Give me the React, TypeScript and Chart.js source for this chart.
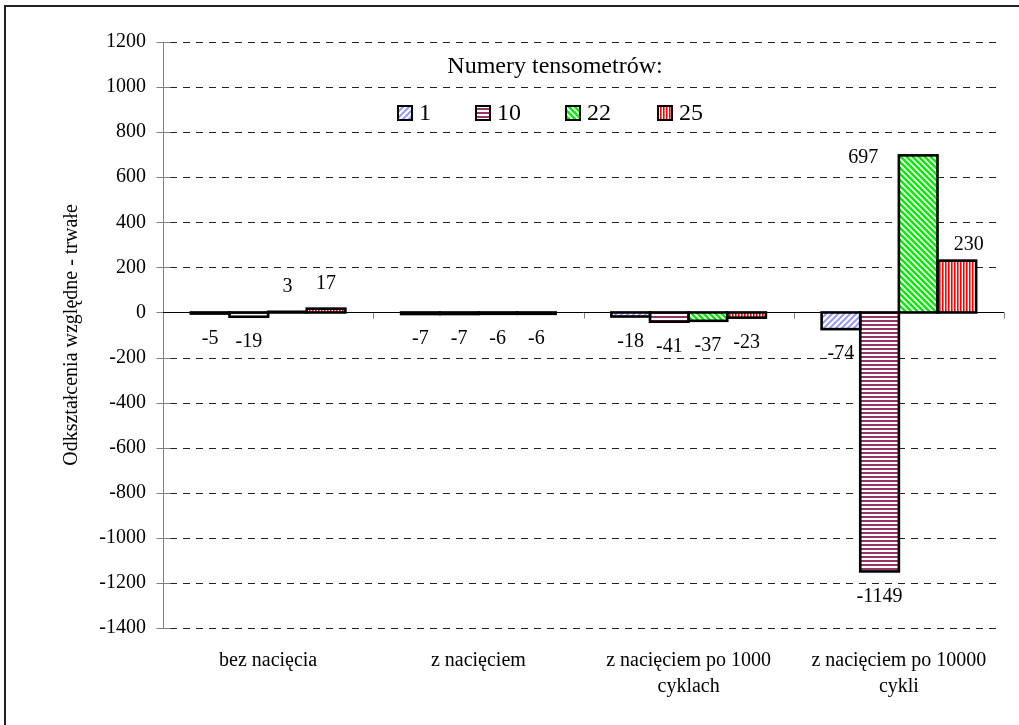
import React, { useEffect, useRef } from "react";
import { Chart, registerables } from "chart.js";

Chart.register(...registerables);

const categories: string[][] = [
  ["bez nacięcia"],
  ["z nacięciem"],
  ["z nacięciem po 1000", "cyklach"],
  ["z nacięciem po 10000", "cykli"],
];
const seriesNames = ["1", "10", "22", "25"];
const series1 = [-5, -7, -18, -74];
const series10 = [-19, -7, -41, -1149];
const series22 = [3, -6, -37, 697];
const series25 = [17, -6, -23, 230];
const yMin = -1400;
const yMax = 1200;
const yStep = 200;
const legendTitle = "Numery tensometrów:";
const yTitle = "Odkształcenia względne - trwałe";
// manual nudges of individual data labels (series index, category index)
const labelNudges = [
  { s: 2, c: 3, dx: -55, dy: 27 },
  { s: 3, c: 3, dx: 12, dy: 9 },
];

const FONT = "'Liberation Serif', 'Times New Roman', serif";

function makePattern(kind: string, color: string): CanvasPattern | string {
  const c = document.createElement("canvas");
  const size = kind === "horiz" ? 4 : kind === "vert" ? 3 : 6;
  c.width = size;
  c.height = size;
  const g = c.getContext("2d");
  if (!g) return color;
  g.fillStyle = "#fff";
  g.fillRect(0, 0, size, size);
  g.fillStyle = color;
  g.strokeStyle = color;
  if (kind === "horiz") {
    g.fillRect(0, 0, size, 2);
  } else if (kind === "vert") {
    g.fillRect(0, 0, 1.6, size);
  } else {
    g.lineWidth = kind === "diagDown" ? 2.4 : 2;
    g.beginPath();
    if (kind === "diagUp") {
      for (let k = -1; k <= 1; k++) {
        g.moveTo(k * size - 1, size + 1);
        g.lineTo(k * size + size + 1, -1);
      }
    } else {
      for (let k = -1; k <= 1; k++) {
        g.moveTo(k * size - 1, -1);
        g.lineTo(k * size + size + 1, size + 1);
      }
    }
    g.stroke();
  }
  const p = g.createPattern(c, "repeat");
  return p || color;
}

export default function App() {
  const ref = useRef<HTMLCanvasElement>(null);

  useEffect(() => {
    document.body.style.margin = "0";
    const canvas = ref.current;
    if (!canvas) return;

    const fills = [
      makePattern("diagUp", "#9999FF"),
      makePattern("horiz", "#993366"),
      makePattern("diagDown", "#00EE00"),
      makePattern("vert", "#FF0000"),
    ];
    const values = [series1, series10, series22, series25];

    const decor = {
      id: "decor",
      beforeDatasetsDraw(chart: any) {
        const ctx = chart.ctx;
        const y = chart.scales.y;
        const area = chart.chartArea;
        ctx.save();
        // dashed grid lines
        ctx.strokeStyle = "#222";
        ctx.lineWidth = 1;
        ctx.setLineDash([7, 6]);
        for (let v = yMin; v <= yMax; v += yStep) {
          if (v === 0) continue;
          const py = Math.round(y.getPixelForValue(v)) + 0.5;
          ctx.beginPath();
          ctx.moveTo(area.left + 7, py);
          ctx.lineTo(area.right - 4, py);
          ctx.stroke();
        }
        ctx.setLineDash([]);
        // y axis line and tick marks
        const ax = Math.round(area.left) + 0.5;
        ctx.strokeStyle = "#808080";
        ctx.beginPath();
        ctx.moveTo(ax, area.top);
        ctx.lineTo(ax, area.bottom);
        for (let v = yMin; v <= yMax; v += yStep) {
          const py = Math.round(y.getPixelForValue(v)) + 0.5;
          ctx.moveTo(ax - 7, py);
          ctx.lineTo(ax + 7, py);
        }
        // category tick marks on zero line
        const zy = Math.round(y.getPixelForValue(0)) + 0.5;
        const n = categories.length;
        for (let i = 1; i <= n; i++) {
          const px = Math.round(area.left + ((area.right - area.left) * i) / n) + 0.5;
          ctx.moveTo(px, zy);
          ctx.lineTo(px, zy + 6);
        }
        ctx.stroke();
        // zero line
        ctx.strokeStyle = "#000";
        ctx.beginPath();
        ctx.moveTo(area.left, zy);
        ctx.lineTo(area.right, zy);
        ctx.stroke();
        ctx.restore();
      },
      afterDatasetsDraw(chart: any) {
        const ctx = chart.ctx;
        ctx.save();
        ctx.strokeStyle = "#000";
        ctx.lineWidth = 2.6;
        values.forEach((arr, s) => {
          const meta = chart.getDatasetMeta(s);
          arr.forEach((_v, c) => {
            const el = meta.data[c];
            const p = el.getProps(["x", "y", "base", "width"], true);
            const top = Math.min(p.y, p.base);
            const h = Math.abs(p.base - p.y);
            ctx.strokeRect(p.x - p.width / 2, top, p.width, h);
          });
        });
        ctx.restore();
      },
      afterDraw(chart: any) {
        const ctx = chart.ctx;
        const area = chart.chartArea;
        ctx.save();
        // outer border
        ctx.strokeStyle = "#222";
        ctx.lineWidth = 2;
        ctx.strokeRect(5, 6, 1200, 1200);
        // data labels
        ctx.fillStyle = "#000";
        ctx.font = `20px ${FONT}`;
        ctx.textAlign = "center";
        ctx.textBaseline = "middle";
        values.forEach((arr, s) => {
          const meta = chart.getDatasetMeta(s);
          arr.forEach((v, c) => {
            const el = meta.data[c];
            let lx = el.x;
            let ly = v >= 0 ? el.y - 25 : el.y + 25;
            const nudge = labelNudges.find((q) => q.s === s && q.c === c);
            if (nudge) {
              lx += nudge.dx;
              ly += nudge.dy;
            }
            ctx.fillText(String(v), lx, ly);
          });
        });
        // y axis title
        ctx.save();
        ctx.translate(72, (area.top + area.bottom) / 2);
        ctx.rotate(-Math.PI / 2);
        ctx.font = `20px ${FONT}`;
        ctx.fillText(yTitle, 0, 0);
        ctx.restore();
        // legend
        ctx.font = `24px ${FONT}`;
        ctx.textAlign = "center";
        ctx.fillText(legendTitle, 555, 67);
        const boxX = [397, 475, 565, 657];
        ctx.textAlign = "left";
        seriesNames.forEach((name, i) => {
          const bx = boxX[i];
          const by = 105;
          ctx.fillStyle = fills[i] as any;
          ctx.fillRect(bx, by, 16, 16);
          ctx.strokeStyle = "#000";
          ctx.lineWidth = 2;
          ctx.strokeRect(bx + 1, by + 1, 14, 14);
          ctx.fillStyle = "#000";
          ctx.fillText(name, bx + 22, by + 9);
        });
        ctx.restore();
      },
    };

    const chart = new Chart(canvas, {
      type: "bar",
      data: {
        labels: categories,
        datasets: values.map((arr, i) => ({
          label: seriesNames[i],
          data: arr,
          backgroundColor: fills[i] as any,
          borderWidth: 0,
          categoryPercentage: 0.735,
          barPercentage: 1,
        })),
      },
      options: {
        animation: false,
        responsive: false,
        devicePixelRatio: 1,
        layout: { padding: { left: 0, top: 42, right: 15, bottom: 0 } },
        plugins: {
          legend: { display: false },
          tooltip: { enabled: false },
          title: { display: false },
        },
        scales: {
          x: {
            offset: true,
            grid: { display: false, drawTicks: false },
            border: { display: false },
            ticks: {
              color: "#000",
              font: { family: FONT, size: 20, lineHeight: 1.3 },
              padding: 20,
              maxRotation: 0,
              autoSkip: false,
            },
            afterFit: (scale: any) => {
              scale.height = 97;
            },
          },
          y: {
            min: yMin,
            max: yMax,
            grid: { display: false, drawTicks: false },
            border: { display: false },
            ticks: {
              stepSize: yStep,
              color: "#000",
              font: { family: FONT, size: 20 },
              padding: 17,
              callback: (v: any) => String(v),
            },
            afterFit: (scale: any) => {
              scale.width = 163;
            },
          },
        },
      },
      plugins: [decor],
    });
    return () => chart.destroy();
  }, []);

  return (
    <div style={{ width: 1019, height: 725, position: "relative", background: "#fff" }}>
      <canvas ref={ref} width={1019} height={725} style={{ display: "block" }} />
    </div>
  );
}
